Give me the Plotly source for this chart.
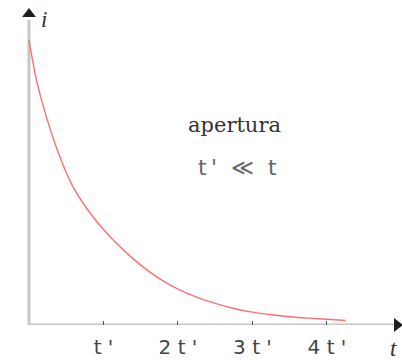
import plotly.graph_objects as go

# time in units of t', current normalised to its initial value
t_vals = [0, 0.1, 0.2, 0.3, 0.4, 0.5, 0.6, 0.8, 1.0, 1.2, 1.4, 1.6, 1.8, 2.0,
          2.25, 2.5, 2.75, 3.0, 3.25, 3.5, 3.75, 4.0, 4.25]
i_vals = [1.0, 0.86, 0.76, 0.675, 0.60, 0.535, 0.48, 0.40, 0.335, 0.28, 0.232,
          0.19, 0.155, 0.126, 0.098, 0.076, 0.058, 0.045, 0.036, 0.029, 0.024,
          0.02, 0.016]

tick_vals = [1, 2, 3, 4]
tick_text = ["t '", "2 t '", "3 t '", "4 t '"]

axis_grey = "#c6c6c6"


def main():
    fig = go.Figure()

    # the decaying current
    fig.add_trace(go.Scatter(
        x=t_vals, y=i_vals, mode="lines",
        line=dict(color="#ff6f6f", width=1.4, shape="spline", smoothing=0.8),
        hoverinfo="skip"
    ))

    # arrow heads at the ends of the axes
    fig.add_trace(go.Scatter(
        x=[0], y=[1.091], mode="markers",
        marker=dict(symbol="triangle-up", size=12, color="#1e1e1e"),
        cliponaxis=False, hoverinfo="skip"
    ))
    fig.add_trace(go.Scatter(
        x=[4.94], y=[0], mode="markers",
        marker=dict(symbol="triangle-right", size=12, color="#1e1e1e"),
        cliponaxis=False, hoverinfo="skip"
    ))

    # axis lines
    fig.add_shape(type="line", x0=0, y0=0, x1=0, y1=1.07,
                  line=dict(color=axis_grey, width=3), layer="below")
    fig.add_shape(type="line", x0=0, y0=0, x1=4.9, y1=0,
                  line=dict(color=axis_grey, width=3), layer="below")

    # axis names
    fig.add_annotation(x=0.2, y=1.072, text="<i>i</i>", showarrow=False,
                       font=dict(family="Liberation Serif", size=23, color="#333"))
    fig.add_annotation(x=4.89, y=-0.0738, yref="paper", yanchor="middle",
                       text="<i>t</i>", showarrow=False,
                       font=dict(family="Liberation Serif", size=23, color="#333"))

    fig.add_annotation(x=2.76, y=0.702, text="apertura", showarrow=False,
                       font=dict(family="DejaVu Serif", size=21, color="#333"))
    fig.add_annotation(x=2.805, y=0.554,
                       text="t\u2009'\u00a0\u00a0\u226a\u00a0\u00a0t",
                       showarrow=False,
                       font=dict(family="DejaVu Sans", size=22, color="#666"))

    fig.update_layout(
        width=402, height=360,
        margin=dict(l=0, r=0, t=0, b=35),
        paper_bgcolor="white", plot_bgcolor="white",
        showlegend=False,
        xaxis=dict(range=[-0.389, 5.007], showgrid=False, zeroline=False,
                   showline=False, tickmode="array", tickvals=tick_vals,
                   ticktext=tick_text, ticks="inside", ticklen=4,
                   tickcolor="#555", tickwidth=1, ticklabelstandoff=8,
                   tickfont=dict(family="DejaVu Sans", size=20, color="#444")),
        yaxis=dict(range=[0, 1.1404], visible=False)
    )

    # drop the default page margin so the figure fills the window
    fig.write_html("out.html", config={"displayModeBar": False},
                   post_script="document.body.style.margin='0';"
                               "document.body.style.overflow='hidden';")


if __name__ == '__main__':
    main()
